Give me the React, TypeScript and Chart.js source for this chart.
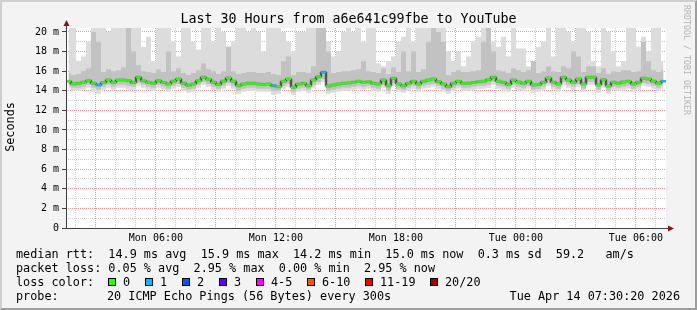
import React, { useEffect, useRef } from 'react';
import { Chart, registerables } from 'chart.js';

Chart.register(...registerables);

// ---- time axis (hours since Mon 00:00) ----
const startHour = 1 + 30 / 60 + 20 / 3600; // Mon 01:30:20
const spanHours = 30;
const stepHours = 0.25; // one sample every 15 minutes

const xTickHours = [6, 12, 18, 24, 30];
const xTickLabels = ['Mon 06:00', 'Mon 12:00', 'Mon 18:00', 'Tue 00:00', 'Tue 06:00'];

const yMax = 20.4;
const yTickValues = [0, 2, 4, 6, 8, 10, 12, 14, 16, 18, 20];
const yTickLabels = ['0', '2 m', '4 m', '6 m', '8 m', '10 m', '12 m', '14 m', '16 m', '18 m', '20 m'];

// ---- series (milliseconds) ----
const medianRtt = [
  14.97, 14.69, 14.76, 14.86, 15.03, 14.76, 14.59, 14.83, 15.10, 14.86, 15.10, 15.10, 15.03, 14.83, 15.37,
  15.03, 14.86, 14.76, 15.03, 14.83, 14.69, 14.97, 15.20, 14.76, 14.56, 14.69, 15.03, 15.37, 15.17, 14.86,
  14.63, 14.97, 15.30, 14.97, 14.52, 14.69, 14.76, 14.76, 14.69, 14.63, 14.69, 14.52, 14.42, 14.97, 15.20,
  14.35, 14.69, 14.76, 14.52, 15.10, 15.44, 15.89, 14.49, 14.59, 14.69, 14.76, 14.80, 14.86, 14.97, 14.86,
  14.93, 14.76, 14.69, 15.10, 14.52, 15.27, 14.69, 14.52, 14.76, 14.97, 14.69, 14.97, 15.10, 15.20, 14.93,
  14.69, 14.42, 14.76, 14.97, 14.76, 14.76, 14.83, 14.93, 14.97, 15.13, 15.37, 14.97, 14.86, 14.63, 15.10,
  14.90, 14.76, 14.97, 14.59, 14.63, 14.86, 15.30, 14.86, 14.69, 15.37, 15.10, 14.86, 15.20, 14.69, 15.37,
  15.37, 14.59, 15.13, 14.49, 14.86, 14.76, 14.90, 14.97, 14.69, 14.86, 15.27, 15.20, 14.97, 14.76, 14.97,
];

const smokeMin = [
  14.2, 14.0, 14.0, 14.1, 14.3, 13.9, 13.7, 14.1, 14.3, 14.1, 14.3, 14.3, 14.1, 14.1, 14.5,
  14.3, 14.1, 14.0, 14.3, 14.1, 13.9, 14.2, 14.4, 14.0, 13.8, 13.9, 14.3, 14.6, 14.4, 14.1,
  13.9, 14.2, 14.5, 14.2, 13.7, 13.9, 14.0, 14.0, 13.9, 13.9, 13.9, 13.6, 13.7, 14.2, 14.4,
  13.6, 13.9, 14.0, 13.8, 14.3, 14.6, 14.9, 13.7, 13.8, 13.9, 14.0, 14.0, 14.1, 14.2, 14.1,
  14.2, 14.0, 13.9, 14.3, 13.7, 14.5, 13.9, 13.8, 14.0, 14.2, 13.9, 14.2, 14.3, 14.4, 14.2,
  13.9, 13.7, 14.0, 14.2, 14.0, 14.0, 14.1, 14.2, 14.2, 14.3, 14.6, 14.2, 14.1, 13.9, 14.3,
  14.1, 14.0, 14.2, 13.8, 13.9, 14.1, 14.5, 14.1, 13.9, 14.6, 14.3, 14.1, 14.4, 13.9, 14.6,
  14.6, 13.8, 14.3, 13.7, 14.1, 14.0, 14.1, 14.2, 13.9, 14.1, 14.5, 14.4, 14.2, 14.0, 14.2,
];

const smokeLower = [
  14.5, 14.3, 14.3, 14.4, 14.6, 14.3, 14.1, 14.4, 14.6, 14.4, 14.6, 14.6, 14.5, 14.4, 14.8,
  14.6, 14.4, 14.3, 14.6, 14.4, 14.2, 14.5, 14.7, 14.3, 14.1, 14.2, 14.6, 14.9, 14.7, 14.4,
  14.2, 14.5, 14.8, 14.5, 14.0, 14.2, 14.3, 14.3, 14.2, 14.2, 14.2, 14.0, 14.0, 14.5, 14.7,
  13.9, 14.2, 14.3, 14.1, 14.6, 14.9, 15.2, 14.0, 14.1, 14.2, 14.3, 14.3, 14.4, 14.5, 14.4,
  14.5, 14.3, 14.2, 14.6, 14.0, 14.8, 14.2, 14.1, 14.3, 14.5, 14.2, 14.5, 14.6, 14.7, 14.5,
  14.2, 14.0, 14.3, 14.5, 14.3, 14.3, 14.4, 14.5, 14.5, 14.6, 14.9, 14.5, 14.4, 14.2, 14.6,
  14.4, 14.3, 14.5, 14.1, 14.2, 14.4, 14.8, 14.4, 14.2, 14.9, 14.6, 14.4, 14.7, 14.2, 14.9,
  14.9, 14.1, 14.6, 14.0, 14.4, 14.3, 14.4, 14.5, 14.2, 14.4, 14.8, 14.7, 14.5, 14.3, 14.5,
];

const smokeUpper = [
  15.8, 15.6, 15.7, 16.0, 16.3, 20.0, 19.0, 15.9, 16.2, 16.0, 16.1, 16.4, 20.4, 18.0, 16.6,
  16.0, 15.9, 15.8, 16.2, 15.9, 18.0, 16.0, 16.3, 15.8, 15.6, 15.8, 16.1, 16.8, 16.2, 16.0,
  15.7, 16.0, 18.5, 16.0, 15.7, 15.8, 15.9, 15.9, 15.8, 15.8, 15.9, 15.7, 15.6, 17.0, 17.5,
  15.6, 15.9, 15.9, 15.8, 16.5, 21.0, 21.0, 18.0, 15.8, 15.9, 16.0, 16.0, 16.1, 16.2, 17.0,
  16.0, 15.9, 15.8, 16.3, 15.7, 16.4, 15.9, 18.0, 16.0, 18.0, 15.9, 16.2, 19.0, 21.0, 20.0,
  19.0, 15.6, 15.9, 16.1, 15.9, 15.9, 16.0, 16.1, 19.0, 21.0, 18.0, 16.1, 16.0, 15.8, 16.3,
  16.1, 15.9, 16.1, 17.0, 15.8, 16.0, 16.5, 16.0, 15.9, 16.5, 16.3, 18.0, 17.5, 15.9, 16.5,
  16.5, 15.8, 16.3, 15.7, 16.0, 15.9, 16.1, 16.1, 15.9, 16.0, 19.0, 17.0, 16.1, 15.9, 16.1,
];

const smokeMax = [
  21, 21, 17, 17.5, 19, 21, 21, 21, 20, 21, 21, 21, 21, 21, 21,
  18.5, 19.5, 17, 21, 21, 21, 19, 17.5, 21, 21, 19, 18.2, 21, 21, 19,
  21, 20, 18.5, 19, 21, 21, 20, 21, 20, 18, 21, 21, 21, 20, 19,
  18, 20, 20, 21, 21, 21, 21, 19, 17.5, 18, 20, 21, 20, 21, 19,
  21, 21, 16.8, 16.5, 17, 17.5, 19, 19.5, 21, 19, 21, 21, 21, 21, 21,
  21, 18, 17, 18, 16.5, 17.5, 19, 19.5, 21, 21, 19, 18.5, 19.5, 17.5, 21,
  18.3, 18.3, 16.5, 16.8, 18.5, 19, 21, 17.5, 21, 21, 20, 19, 21, 21, 20,
  17, 16.5, 21, 20, 18, 16.5, 17, 21, 21, 18.5, 19.5, 18, 21, 21, 17,
];

// samples that lost packets (index, lost pings)
const lossIndex = [6, 41, 51, 119];
const lossCount = [1, 1, 1, 1];

const lossLegendLabels = ['0', '1', '2', '3', '4-5', '6-10', '11-19', '20/20'];
const lossLegendColors = ['#26ff00', '#00b8ff', '#0059ff', '#5e00ff', '#ff00ff', '#ff5500', '#ff0000', '#a10000'];
const lossLegendBoxX = [108, 145, 182, 219, 256, 307, 365, 430];

const titleText = 'Last 30 Hours from a6e641c99fbe to YouTube';
const rttLine = 'median rtt:  14.9 ms avg  15.9 ms max  14.2 ms min  15.0 ms now  0.3 ms sd  59.2   am/s';
const lossLine = 'packet loss: 0.05 % avg  2.95 % max  0.00 % min  2.95 % now';
const probeText = '20 ICMP Echo Pings (56 Bytes) every 300s';
const dateText = 'Tue Apr 14 07:30:20 2026';

const MONO = '"DejaVu Sans Mono", monospace';

function lossColorFor(count: number): string {
  if (count <= 0) return lossLegendColors[0];
  if (count === 1) return lossLegendColors[1];
  if (count === 2) return lossLegendColors[2];
  if (count === 3) return lossLegendColors[3];
  if (count <= 5) return lossLegendColors[4];
  if (count <= 10) return lossLegendColors[5];
  if (count <= 19) return lossLegendColors[6];
  return lossLegendColors[7];
}

const toPoints = (arr: number[]) => arr.map((v, i) => ({ x: startHour + (i + 0.5) * stepHours, y: v }));

const rrdPlugin = {
  id: 'rrdDecor',
  beforeDraw(chart: any) {
    const { ctx, chartArea: a } = chart;
    ctx.save();
    ctx.fillStyle = '#ffffff';
    ctx.fillRect(a.left, a.top, a.right - a.left, a.bottom - a.top);
    ctx.restore();
  },
  afterDraw(chart: any) {
    const { ctx, chartArea: a } = chart;
    ctx.save();
    ctx.strokeStyle = '#404040';
    ctx.lineWidth = 1;
    ctx.beginPath();
    ctx.moveTo(a.left + 0.5, a.bottom + 1);
    ctx.lineTo(a.left + 0.5, a.top - 4);
    ctx.moveTo(a.left - 4, a.bottom + 0.5);
    ctx.lineTo(a.right + 4, a.bottom + 0.5);
    ctx.stroke();
    ctx.fillStyle = '#8b1010';
    ctx.beginPath();
    ctx.moveTo(a.left + 0.5, a.top - 8);
    ctx.lineTo(a.left - 2.5, a.top - 2);
    ctx.lineTo(a.left + 3.5, a.top - 2);
    ctx.closePath();
    ctx.fill();
    ctx.beginPath();
    ctx.moveTo(a.right + 8, a.bottom + 0.5);
    ctx.lineTo(a.right + 2, a.bottom - 2.5);
    ctx.lineTo(a.right + 2, a.bottom + 3.5);
    ctx.closePath();
    ctx.fill();
    ctx.restore();
  },
};

function SmokeChart() {
  const ref = useRef<HTMLCanvasElement | null>(null);
  useEffect(() => {
    if (!ref.current) return;
    const pointColors = medianRtt.map((_, i) => {
      const k = lossIndex.indexOf(i);
      return lossColorFor(k >= 0 ? lossCount[k] : 0);
    });
    const xGrid: number[] = [];
    for (let h = Math.ceil(startHour); h <= startHour + spanHours; h++) xGrid.push(h);
    const yGrid: number[] = [];
    for (let v = 0; v <= Math.floor(yMax); v++) yGrid.push(v);

    const hidden = { borderWidth: 0, borderColor: 'transparent', pointRadius: 0, stepped: 'middle' as const };
    const chart = new Chart(ref.current, {
      type: 'line',
      data: {
        datasets: [
          { ...hidden, data: toPoints(smokeMin), fill: false, order: 10 },
          { ...hidden, data: toPoints(smokeMax), fill: '-1', backgroundColor: '#dcdcdc', order: 9 },
          { ...hidden, data: toPoints(smokeLower), fill: false, order: 8 },
          { ...hidden, data: toPoints(smokeUpper), fill: '-1', backgroundColor: '#c2c2c2', order: 7 },
          {
            data: toPoints(medianRtt), fill: false, order: 6, stepped: 'middle',
            borderColor: 'rgba(40,40,40,0.35)', borderWidth: 3, borderJoinStyle: 'bevel', pointRadius: 0,
          },
          {
            data: toPoints(medianRtt), fill: false, order: 5, stepped: 'middle',
            borderColor: '#1a1a1a', borderWidth: 1,
            pointStyle: 'line', pointRadius: 2.5, pointBorderWidth: 2.2,
            pointBorderColor: pointColors, pointBackgroundColor: pointColors,
          },
        ],
      } as any,
      options: {
        responsive: false,
        animation: false,
        devicePixelRatio: 1,
        events: [],
        layout: { padding: { top: 28, left: 0, right: 31, bottom: 0 } },
        plugins: { legend: { display: false }, tooltip: { enabled: false }, title: { display: false } },
        scales: {
          x: {
            type: 'linear',
            min: startHour,
            max: startHour + spanHours,
            z: 1,
            afterFit: (s: any) => { s.height = 82; },
            afterBuildTicks: (s: any) => { s.ticks = xGrid.map((v) => ({ value: v })); },
            border: { display: false, dash: [1, 1] },
            grid: {
              drawTicks: false,
              color: (c: any) => (c.tick && c.tick.value % 3 === 0 ? 'rgba(225,90,90,0.6)' : 'rgba(150,150,150,0.5)'),
              lineWidth: 1,
            },
            ticks: {
              autoSkip: false,
              maxRotation: 0,
              padding: 4,
              color: '#000',
              font: { family: MONO, size: 10 },
              callback: (v: any) => {
                const k = xTickHours.indexOf(Number(v));
                return k >= 0 ? xTickLabels[k] : '';
              },
            },
          },
          y: {
            type: 'linear',
            min: 0,
            max: yMax,
            z: 1,
            afterFit: (s: any) => { s.width = 66; },
            afterBuildTicks: (s: any) => { s.ticks = yGrid.map((v) => ({ value: v })); },
            border: { display: false, dash: [1, 1] },
            grid: {
              drawTicks: true,
              tickLength: 4,
              tickColor: (c: any) => (c.tick && c.tick.value % 2 === 0 ? '#404040' : 'transparent'),
              color: (c: any) => (c.tick && c.tick.value % 2 === 0 ? 'rgba(225,90,90,0.6)' : 'rgba(150,150,150,0.5)'),
              lineWidth: 1,
            },
            ticks: {
              autoSkip: false,
              padding: 3,
              color: '#000',
              font: { family: MONO, size: 10 },
              callback: (v: any) => {
                const k = yTickValues.indexOf(Number(v));
                return k >= 0 ? yTickLabels[k] : '';
              },
            },
          },
        },
      } as any,
      plugins: [rrdPlugin],
    });
    return () => chart.destroy();
  }, []);
  return <canvas ref={ref} width={697} height={310} style={{ position: 'absolute', left: 0, top: 0, width: 697, height: 310 }} />;
}

const textBase: React.CSSProperties = {
  position: 'absolute',
  fontFamily: MONO,
  fontSize: '11.8px',
  lineHeight: '14px',
  whiteSpace: 'pre',
  color: '#000',
};

export default function App() {
  return (
    <div style={{ position: 'absolute', left: 0, top: 0, width: 697, height: 310, background: '#f3f3f3', overflow: 'hidden' }}>
      <SmokeChart />
      <div style={{ ...textBase, left: 0, top: 11, width: 697, textAlign: 'center', fontSize: '13.3px', lineHeight: '16px' }}>{titleText}</div>
      <div style={{ ...textBase, left: -20, top: 120, width: 60, textAlign: 'center', transform: 'rotate(-90deg)' }}>Seconds</div>
      <div style={{ ...textBase, left: 627, top: 55, width: 120, textAlign: 'center', fontSize: '8.3px', lineHeight: '10px', color: '#b4b4b4', transform: 'rotate(90deg)' }}>RRDTOOL / TOBI OETIKER</div>
      <div style={{ ...textBase, left: 16, top: 247 }}>{rttLine}</div>
      <div style={{ ...textBase, left: 16, top: 261 }}>{lossLine}</div>
      <div style={{ ...textBase, left: 16, top: 275 }}>loss color:</div>
      {lossLegendLabels.map((lab, i) => (
        <React.Fragment key={lab}>
          <div style={{ position: 'absolute', left: lossLegendBoxX[i], top: 278, width: 8, height: 8, boxSizing: 'border-box', border: '1px solid #000', background: lossLegendColors[i] }} />
          <div style={{ ...textBase, left: lossLegendBoxX[i] + 15, top: 275 }}>{lab}</div>
        </React.Fragment>
      ))}
      <div style={{ ...textBase, left: 16, top: 289 }}>probe:</div>
      <div style={{ ...textBase, left: 107, top: 289 }}>{probeText}</div>
      <div style={{ ...textBase, right: 17, top: 289 }}>{dateText}</div>
      <div style={{ position: 'absolute', left: 0, top: 0, width: 697, height: 310, boxSizing: 'border-box', borderTop: '2px solid #cfcfcf', borderLeft: '2px solid #cfcfcf', borderRight: '2px solid #9e9e9e', borderBottom: '2px solid #9e9e9e', pointerEvents: 'none' }} />
    </div>
  );
}
